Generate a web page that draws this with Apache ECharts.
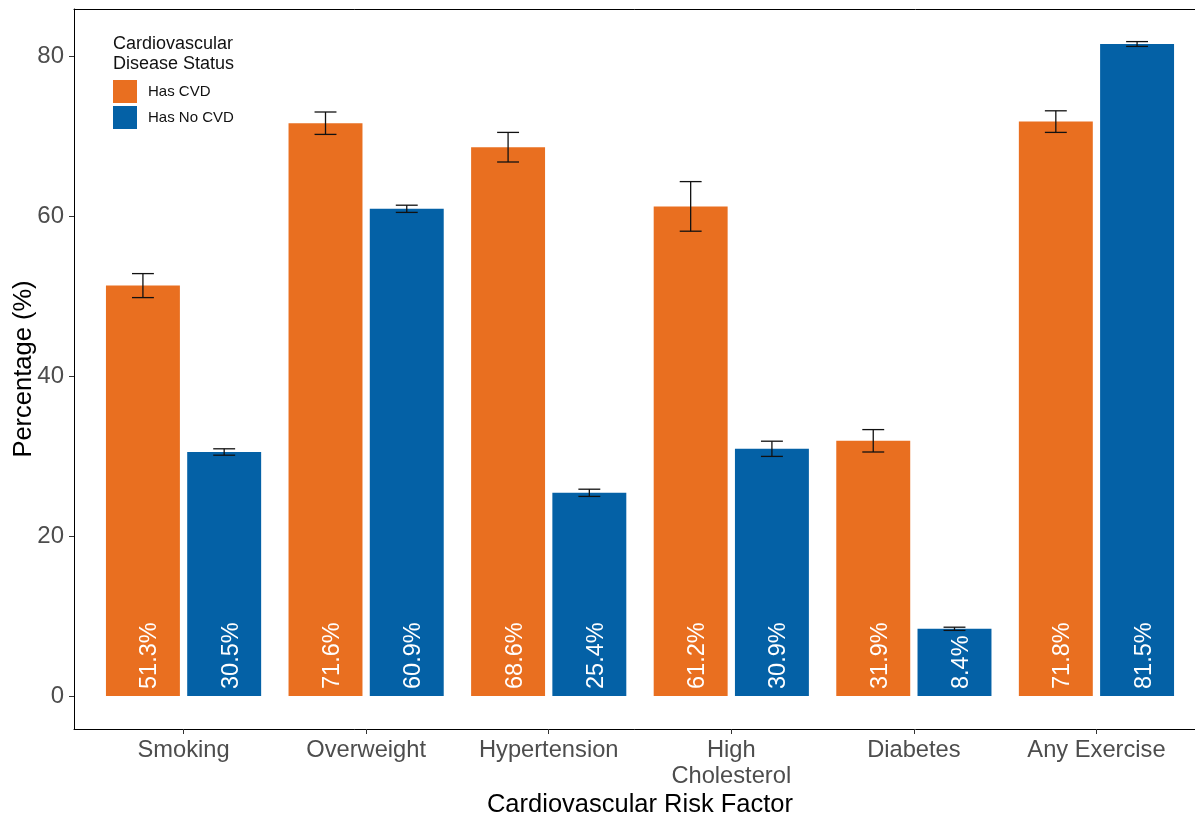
<!DOCTYPE html>
<html>
<head>
<meta charset="utf-8">
<title>Cardiovascular Risk Factors by CVD Status</title>
<script src="https://cdn.jsdelivr.net/npm/echarts@6/dist/echarts.min.js"></script>
<style>
  html, body { margin: 0; padding: 0; background: #ffffff; }
  #chart { width: 1195px; height: 815px; }
</style>
</head>
<body>
<div id="chart"></div>
<script>
// Risk factor categories and prevalence (%) by cardiovascular disease status
const categories = ['Smoking', 'Overweight', 'Hypertension', 'High\nCholesterol', 'Diabetes', 'Any Exercise'];
const hasCvd = [51.3, 71.6, 68.6, 61.2, 31.9, 71.8];
const noCvd = [30.5, 60.9, 25.4, 30.9, 8.4, 81.5];
// Half-widths of the error bars (percentage points)
const hasCvdErr = [1.5, 1.4, 1.85, 3.1, 1.4, 1.35];
const noCvdErr = [0.4, 0.45, 0.45, 0.95, 0.2, 0.3];
const yTicks = [0, 20, 40, 60, 80];
const seriesNames = ['Has CVD', 'Has No CVD'];

const ORANGE = '#E96F20';
const BLUE = '#0461A6';
const BAR_W = 0.405;      // bar width in category units
const DODGE = 0.2225;     // offset of each bar from the category centre
const CAP_W = 0.12;       // error bar cap width in category units

function rows(values, errs) {
  return values.map((v, i) => [i + 1, v, errs[i]]);
}

function makeRenderer(offset) {
  return function (params, api) {
    const x = api.value(0) + offset;
    const v = api.value(1);
    const e = api.value(2);
    const tl = api.coord([x - BAR_W / 2, v]);
    const br = api.coord([x + BAR_W / 2, 0]);
    const top = api.coord([x, v + e]);
    const bot = api.coord([x, v - e]);
    const capL = api.coord([x - CAP_W / 2, 0])[0];
    const capR = api.coord([x + CAP_W / 2, 0])[0];
    const base = api.coord([x, 0]);
    const lineStyle = { stroke: '#111', lineWidth: 1.3 };
    return {
      type: 'group',
      children: [
        {
          type: 'rect',
          shape: { x: tl[0], y: tl[1], width: br[0] - tl[0], height: br[1] - tl[1] },
          style: { fill: api.visual('color') }
        },
        { type: 'line', shape: { x1: top[0], y1: top[1], x2: bot[0], y2: bot[1] }, style: lineStyle },
        { type: 'line', shape: { x1: capL, y1: top[1], x2: capR, y2: top[1] }, style: lineStyle },
        { type: 'line', shape: { x1: capL, y1: bot[1], x2: capR, y2: bot[1] }, style: lineStyle },
        {
          type: 'text',
          x: base[0] + 7,
          y: base[1] - 7,
          rotation: Math.PI / 2,
          style: {
            text: v.toFixed(1) + '%',
            x: 0, y: 0,
            align: 'left',
            verticalAlign: 'middle',
            fill: '#ffffff',
            font: '23.5px "Liberation Sans", Arial, sans-serif'
          }
        }
      ]
    };
  };
}

const chart = echarts.init(document.getElementById('chart'), null, { renderer: 'canvas' });

const FONT = '"Liberation Sans", Arial, sans-serif';

chart.setOption({
  animation: false,
  backgroundColor: '#ffffff',
  textStyle: { fontFamily: FONT },
  grid: {
    left: 74, top: 9, width: 1132, height: 720,
    containLabel: false,
    outerBoundsMode: 'none',
    show: false
  },
  legend: {
    orient: 'vertical',
    left: 113, top: 80,
    padding: 0,
    itemWidth: 24, itemHeight: 23, itemGap: 3,
    selectedMode: false,
    textStyle: { fontSize: 15, color: '#111', fontFamily: FONT, padding: [0, 0, 0, 6] },
    data: [
      { name: seriesNames[0], icon: 'rect' },
      { name: seriesNames[1], icon: 'rect' }
    ]
  },
  graphic: [{
    type: 'text',
    left: 113, top: 34,
    style: {
      text: 'Cardiovascular\nDisease Status',
      fill: '#111',
      font: '18px ' + FONT,
      lineHeight: 20
    }
  }],
  xAxis: [
    {
      type: 'value',
      position: 'bottom',
      min: 0.4, max: 6.6,
      name: 'Cardiovascular Risk Factor',
      nameLocation: 'middle',
      nameGap: 63,
      nameMoveOverlap: false,
      nameTextStyle: { fontSize: 25.5, color: '#000', fontFamily: FONT },
      axisLine: { show: true, onZero: false, lineStyle: { color: '#000' } },
      axisTick: { show: true, length: 5, customValues: [1, 2, 3, 4, 5, 6], lineStyle: { color: '#333' } },
      axisLabel: {
        customValues: [1, 2, 3, 4, 5, 6],
        formatter: (v) => categories[Math.round(v) - 1] || '',
        fontSize: 23.7, color: '#4D4D4D', margin: 8, lineHeight: 26, fontFamily: FONT
      },
      splitLine: { show: false }
    },
    {
      // top edge of the plotting panel
      type: 'value',
      position: 'top',
      min: 0.4, max: 6.6,
      axisLine: { show: true, onZero: false, lineStyle: { color: '#000' } },
      axisTick: { show: false },
      axisLabel: { show: false },
      splitLine: { show: false }
    }
  ],
  yAxis: {
    type: 'value',
    min: -4.125, max: 85.875,
    name: 'Percentage (%)',
    nameLocation: 'middle',
    nameGap: 37,
    nameMoveOverlap: false,
    nameTextStyle: { fontSize: 25.5, color: '#000', fontFamily: FONT },
    axisLine: { show: true, lineStyle: { color: '#000' } },
    axisTick: { show: true, length: 5, customValues: yTicks, lineStyle: { color: '#333' } },
    axisLabel: { customValues: yTicks, fontSize: 24, color: '#4D4D4D', margin: 10, fontFamily: FONT },
    splitLine: { show: false }
  },
  series: [
    {
      name: seriesNames[0],
      type: 'custom',
      renderItem: makeRenderer(-DODGE),
      itemStyle: { color: ORANGE },
      encode: { x: 0, y: 1 },
      data: rows(hasCvd, hasCvdErr)
    },
    {
      name: seriesNames[1],
      type: 'custom',
      renderItem: makeRenderer(DODGE),
      itemStyle: { color: BLUE },
      encode: { x: 0, y: 1 },
      data: rows(noCvd, noCvdErr)
    }
  ]
});
</script>
</body>
</html>
